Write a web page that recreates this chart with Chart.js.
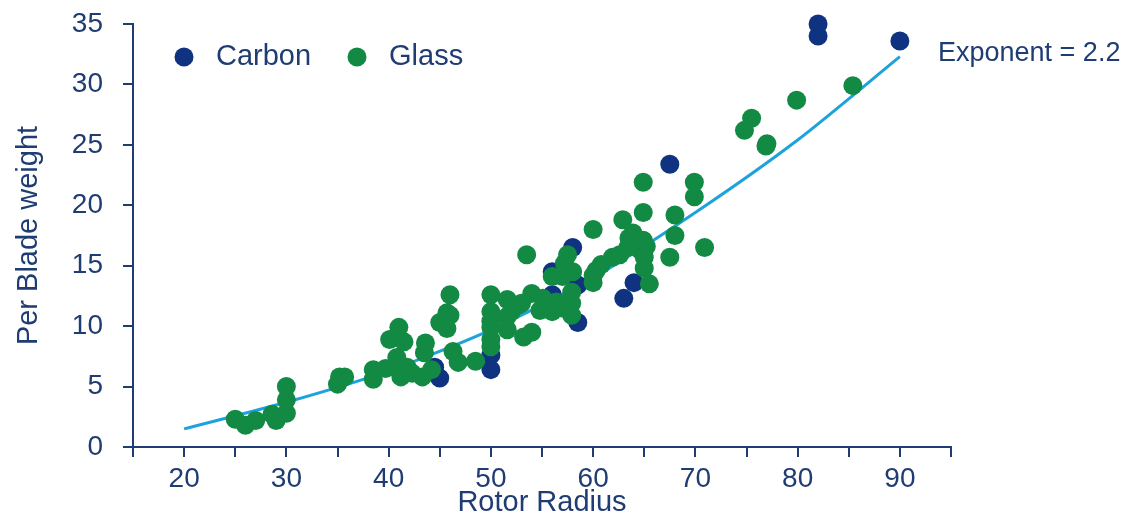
<!DOCTYPE html>
<html>
<head>
<meta charset="utf-8">
<script src="https://cdn.jsdelivr.net/npm/chart.js@4/dist/chart.umd.min.js"></script>
<style>
  body { margin: 0; background: #fff; }
  canvas { display: block; }
</style>
</head>
<body>
<canvas id="bladeChart" width="1133" height="518"></canvas>
<script>
// Data
const carbonX = [82, 82, 90, 67.5, 58, 56, 58.5, 56, 58.5, 64, 63, 50, 50, 45, 44.5];
const carbonY = [35, 34, 33.6, 23.4, 16.5, 14.5, 13.4, 12.6, 10.3, 13.6, 12.3, 7.6, 6.4, 5.7, 6.6];

const glassX = [25, 26, 27, 28.6, 29, 30, 30, 30,
  35, 35.2, 35.7,
  38.5, 38.5, 39.7, 40.1, 41, 41.5, 40.8, 41, 41.2, 41.8, 42.3, 43.3, 43.5, 43.6, 44.2,
  45, 45.7, 46, 46, 45.7, 46.3, 46.8, 48.5,
  50, 50, 50, 50, 50, 50,
  51.6, 51.6, 51.6, 52.6, 53.2, 54, 53.5, 54, 55.1, 54.8, 56, 56.4, 57, 57.9, 57.9, 57.9, 56, 57, 57.5, 57.2, 58, 53, 52, 55.5,
  60, 60, 60, 60.3, 60.8, 61.9, 62.6, 62.9, 63.9, 63.4, 64.6, 64.9, 65.2, 65, 65, 65.5, 64.9, 64.9, 63.5,
  67.5, 68, 68, 69.9, 69.9, 70.9,
  74.8, 75.5, 76.9, 77, 79.9, 85.4];
const glassY = [2.3, 1.8, 2.2, 2.7, 2.2, 2.8, 3.9, 5.0,
  5.2, 5.8, 5.8,
  5.6, 6.4, 6.5, 8.9, 9.9, 8.7, 7.4, 6.5, 5.8, 6.6, 6.1, 5.8, 7.8, 8.6, 6.4,
  10.3, 9.8, 10.9, 12.6, 11.1, 7.9, 7.0, 7.1,
  12.6, 11.2, 10.4, 9.9, 8.9, 8.3,
  12.2, 10.8, 9.7, 11.7, 9.1, 9.5, 15.9, 12.7, 12.3, 11.3, 11.2, 12.0, 11.5, 12.8, 11.9, 10.9, 14.1, 14.1, 15.9, 15.2, 14.5, 11.9, 11.2, 11.8,
  18.0, 14.2, 13.6, 14.6, 15.1, 15.7, 15.9, 18.8, 17.7, 16.5, 16.3, 17.1, 16.6, 15.7, 14.8, 13.5, 21.9, 19.4, 17.3,
  15.7, 17.5, 19.2, 21.9, 20.7, 16.5,
  26.2, 27.2, 24.9, 25.1, 28.7, 29.9];

// power-law fit curve
const fitX = [20, 30, 40, 50, 60, 70, 80, 90];
const fitY = [1.5, 3.7, 6.3, 9.7, 14.0, 19.4, 25.4, 32.3];

const seriesNames = ['Carbon', 'Glass'];
const fitLabel = 'Exponent = 2.2';

const navy = '#1f3c73';
const carbonColor = '#0f3380';
const glassColor = '#138a43';
const lineColor = '#1ea2dc';
const fontFamily = '"Liberation Sans", Arial, sans-serif';

const toPoints = (xs, ys) => xs.map((x, i) => ({ x: x, y: ys[i] }));

// legend + exponent label drawn on top of the plot
const overlayPlugin = {
  id: 'overlay',
  afterDraw(chart) {
    const ctx = chart.ctx;
    const area = chart.chartArea;
    ctx.save();
    ctx.font = '29px ' + fontFamily;
    ctx.textBaseline = 'middle';
    ctx.textAlign = 'left';
    const legendY = area.top + 33;
    const items = [
      { name: seriesNames[0], color: carbonColor, x: area.left + 51 },
      { name: seriesNames[1], color: glassColor, x: area.left + 224 }
    ];
    items.forEach(it => {
      ctx.fillStyle = it.color;
      ctx.beginPath();
      ctx.arc(it.x, legendY, 9.5, 0, Math.PI * 2);
      ctx.fill();
      ctx.fillStyle = navy;
      ctx.fillText(it.name, it.x + 32, legendY);
    });
    ctx.font = '27px ' + fontFamily;
    ctx.fillStyle = navy;
    ctx.fillText(fitLabel, area.right - 13, area.top + 30);
    ctx.restore();
  }
};

const ctx = document.getElementById('bladeChart').getContext('2d');
new Chart(ctx, {
  type: 'scatter',
  data: {
    datasets: [
      {
        label: seriesNames[1],
        data: toPoints(glassX, glassY),
        backgroundColor: glassColor,
        borderWidth: 0,
        pointRadius: 9.5,
        pointHoverRadius: 9.5,
        clip: false,
        order: 0
      },
      {
        label: seriesNames[0],
        data: toPoints(carbonX, carbonY),
        backgroundColor: carbonColor,
        borderWidth: 0,
        pointRadius: 9.5,
        pointHoverRadius: 9.5,
        clip: false,
        order: 1
      },
      {
        label: 'Fit',
        data: toPoints(fitX, fitY),
        showLine: true,
        borderColor: lineColor,
        borderWidth: 3,
        pointRadius: 0,
        tension: 0.25,
        order: 2
      }
    ]
  },
  options: {
    responsive: false,
    animation: false,
    layout: { padding: { left: 0, right: 182, top: 24, bottom: 0 } },
    plugins: {
      legend: { display: false },
      tooltip: { enabled: false }
    },
    scales: {
      x: {
        type: 'linear',
        min: 15,
        max: 95,
        afterFit: (scale) => { scale.height = 71; scale.paddingLeft = 0; scale.paddingRight = 0; },
        border: { color: navy, width: 2 },
        grid: { drawOnChartArea: false, drawTicks: true, tickLength: 10, color: navy, lineWidth: 2 },
        ticks: {
          stepSize: 5,
          autoSkip: false,
          maxRotation: 0,
          padding: 5,
          color: navy,
          font: { family: fontFamily, size: 28 },
          callback: (v) => (v % 10 === 0 && v >= 20 && v <= 90) ? v : ''
        },
        title: {
          display: true,
          text: 'Rotor Radius',
          color: navy,
          font: { family: fontFamily, size: 29 },
          padding: { top: 0, bottom: -2 }
        }
      },
      y: {
        type: 'linear',
        min: 0,
        max: 35,
        afterFit: (scale) => { scale.width = 133; scale.paddingTop = 0; scale.paddingBottom = 0; },
        border: { color: navy, width: 2 },
        grid: { drawOnChartArea: false, drawTicks: true, tickLength: 10, color: navy, lineWidth: 2 },
        ticks: {
          stepSize: 5,
          padding: 20,
          color: navy,
          font: { family: fontFamily, size: 28 }
        },
        title: {
          display: true,
          text: 'Per Blade weight',
          color: navy,
          font: { family: fontFamily, size: 29 },
          padding: { top: 12, bottom: 0 }
        }
      }
    }
  },
  plugins: [overlayPlugin]
});
</script>
</body>
</html>
